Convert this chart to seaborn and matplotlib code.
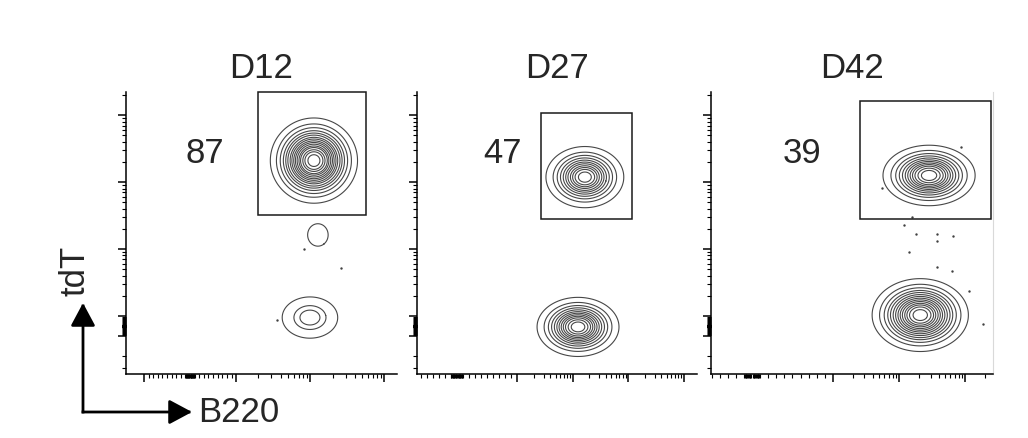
"""
tdT vs B220 flow contour plots at D12 / D27 / D42 with the tdT+ gate.
"""

import numpy as np
import matplotlib
matplotlib.use("Agg")
import matplotlib.pyplot as plt
from matplotlib.patches import Rectangle, FancyArrowPatch
import seaborn as sns

# 1. Data (display channels 0-1024 on biexponential axes) ----------------
days = ["D12", "D27", "D42"]
gate_pct = [87, 47, 39]

# tdT+ gate per day: [low, high]
gate_b220 = [[499, 907], [453, 786], [541, 1017]]
gate_tdt = [[577, 1024], [563, 948], [563, 991]]

# cell populations per day: centre, sd and number of contour rings
pop_b220 = [[710, 725, 695], [614, 589], [792, 760]]
pop_tdt = [[775, 505, 205], [715, 171], [721, 214]]
pop_b220_sd = [[66, 15.5, 42], [57, 60], [67, 70]]
pop_tdt_sd = [[62, 16.3, 30], [44.5, 43], [44, 53]]
pop_rings = [[16, 1, 3], [11, 12], [12, 14]]

# single events shown as dots
event_b220 = [[673, 812, 571], [],
              [730, 701, 744, 821, 879, 821, 719, 821, 875, 937, 988, 621, 908]]
event_tdt = [[454, 385, 196], [],
             [570, 541, 508, 508, 501, 483, 443, 389, 374, 301, 182, 675, 824]]

# axis scaling: channel of 0, channel of linear limit, linear limit, channels per decade
x_scale = [(242, 416, 1000, 280), (146, 366, 100, 203), (149, 443, 1000, 240)]
y_scale = (174, 211, 100, 243)


def biex(v, zero, lin, C, dec):
    """value -> display channel (linear near 0, log above C)"""
    v = np.asarray(v, dtype=float)
    a = np.abs(v)
    logpart = (lin - zero) + dec * np.log10(np.maximum(a, C) / C)
    return np.where(a <= C, zero + (lin - zero) * v / C, zero + np.sign(v) * logpart)


def biex_ticks(zero, lin, C, dec):
    d0 = int(round(np.log10(C))) - 2
    major, minor = [], []
    for d in range(d0, 7):
        for k in range(1, 10):
            for s in (-1, 1):
                v = s * k * 10.0 ** d
                p = float(biex(v, zero, lin, C, dec))
                if p < 0 or p > 1024:
                    continue
                if k == 1 and 10.0 ** d >= C:
                    major.append(p)
                else:
                    minor.append(p)
    return major, minor


# 2. Plot -------------------------------------------------------------
sns.set_style("ticks")
plt.rcParams["font.family"] = ["Liberation Sans", "DejaVu Sans"]

fig = plt.figure(figsize=(10.28, 4.38), dpi=100)
axes_rect = [[0.1226, 0.1461, 0.2636, 0.6438],
             [0.4056, 0.1461, 0.2724, 0.6438],
             [0.6916, 0.1461, 0.2743, 0.6438]]
label_x = [0.29, 0.304, 0.323]

# unit gaussian grid used as weighted events for each population
u = np.arange(-4, 4.001, 0.2)
gu, gv = np.meshgrid(u, u)
gu, gv = gu.ravel(), gv.ravel()
gw = np.exp(-(gu ** 2 + gv ** 2) / 2)

for i, day in enumerate(days):
    ax = fig.add_axes(axes_rect[i])

    for cx, cy, sx, sy, n in zip(pop_b220[i], pop_tdt[i], pop_b220_sd[i],
                                 pop_tdt_sd[i], pop_rings[i]):
        sns.kdeplot(x=cx + sx * gu, y=cy + sy * gv, weights=gw,
                    levels=n + 1, thresh=0.05, bw_method=0.2, gridsize=150,
                    color="0.28", linewidths=0.8, ax=ax)

    if event_b220[i]:
        sns.scatterplot(x=event_b220[i], y=event_tdt[i], s=3, color="0.25",
                        linewidth=0, ax=ax)

    g = Rectangle((gate_b220[i][0], gate_tdt[i][0]),
                  gate_b220[i][1] - gate_b220[i][0],
                  gate_tdt[i][1] - gate_tdt[i][0],
                  fill=False, ec="0.1", lw=1.1, clip_on=False)
    ax.add_patch(g)

    ax.text(label_x[i], 0.748, str(gate_pct[i]), transform=ax.transAxes,
            ha="center", va="baseline", fontsize=25)
    ax.set_title(day, fontsize=25, pad=10)

    ax.set_xlim(0, 1024)
    ax.set_ylim(0, 1024)
    ax.set_xlabel("")
    ax.set_ylabel("")

    xmaj, xmin = biex_ticks(*x_scale[i])
    ymaj, ymin = biex_ticks(*y_scale)
    ax.set_xticks(xmaj)
    ax.set_xticks(xmin, minor=True)
    ax.set_yticks(ymaj)
    ax.set_yticks(ymin, minor=True)
    ax.set_xticklabels([])
    ax.set_yticklabels([])
    ax.tick_params(which="major", length=6, width=1.1, color="black", direction="out")
    ax.tick_params(which="minor", length=3, width=0.8, color="black", direction="out")

    sns.despine(ax=ax)
    for s in ["left", "bottom"]:
        ax.spines[s].set_color("black")
        ax.spines[s].set_linewidth(1.1)
    if i == 2:
        ax.spines["right"].set_visible(True)
        ax.spines["right"].set_color("0.85")
        ax.spines["right"].set_linewidth(0.8)

# axis arrows
corner = (83 / 1028, 1 - 412 / 438)
for tip in [(83 / 1028, 1 - 303 / 438), (192 / 1028, 1 - 412 / 438)]:
    arr = FancyArrowPatch(corner, tip, transform=fig.transFigure,
                          arrowstyle="-|>,head_length=1.4,head_width=0.75",
                          mutation_scale=10, lw=2, color="black",
                          shrinkA=0, shrinkB=0, capstyle="projecting")
    fig.add_artist(arr)

fig.text(75 / 1028, 1 - 271 / 438, "tdT", rotation=90, ha="center", va="center",
         fontsize=25)
fig.text(198 / 1028, 1 - 422 / 438, "B220", ha="left", va="baseline", fontsize=25)

plt.savefig("out.png", dpi=100)
